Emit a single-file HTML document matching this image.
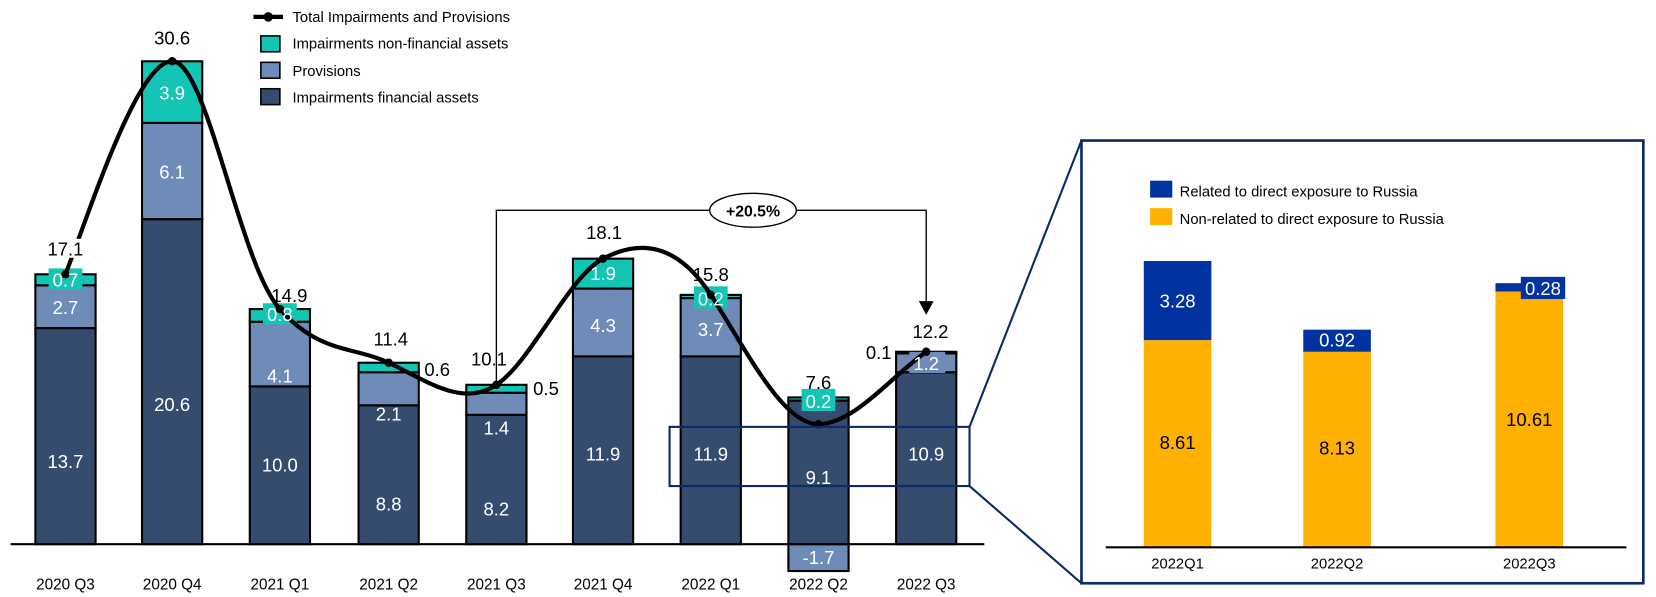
<!DOCTYPE html>
<html><head><meta charset="utf-8"><style>html,body{margin:0;padding:0;background:#fff}svg{display:block}</style></head>
<body>
<svg width="1656" height="597" viewBox="0 0 1568 565" preserveAspectRatio="none" xmlns="http://www.w3.org/2000/svg" font-family="Liberation Sans, Arial, sans-serif">
<g stroke="#000" stroke-width="2">
<rect x="33.5" y="310.5" width="57" height="204.5" fill="#364c6e"/>
<rect x="33.5" y="270" width="57" height="40.5" fill="#6f8bb8"/>
<rect x="33.5" y="259.6" width="57" height="10.4" fill="#14c4b4"/>
<rect x="134.5" y="207.4" width="57" height="307.6" fill="#364c6e"/>
<rect x="134.5" y="116.3" width="57" height="91.1" fill="#6f8bb8"/>
<rect x="134.5" y="58" width="57" height="58.3" fill="#14c4b4"/>
<rect x="236.5" y="365.7" width="57" height="149.3" fill="#364c6e"/>
<rect x="236.5" y="304.5" width="57" height="61.2" fill="#6f8bb8"/>
<rect x="236.5" y="292.5" width="57" height="12" fill="#14c4b4"/>
<rect x="339.5" y="383.6" width="57" height="131.4" fill="#364c6e"/>
<rect x="339.5" y="352.3" width="57" height="31.3" fill="#6f8bb8"/>
<rect x="339.5" y="343.3" width="57" height="9" fill="#14c4b4"/>
<rect x="441.5" y="392.6" width="57" height="122.4" fill="#364c6e"/>
<rect x="441.5" y="371.7" width="57" height="20.9" fill="#6f8bb8"/>
<rect x="441.5" y="364.2" width="57" height="7.5" fill="#14c4b4"/>
<rect x="542.5" y="337.3" width="57" height="177.7" fill="#364c6e"/>
<rect x="542.5" y="273.1" width="57" height="64.2" fill="#6f8bb8"/>
<rect x="542.5" y="244.8" width="57" height="28.3" fill="#14c4b4"/>
<rect x="644.5" y="337.3" width="57" height="177.7" fill="#364c6e"/>
<rect x="644.5" y="282.1" width="57" height="55.2" fill="#6f8bb8"/>
<rect x="644.5" y="279.1" width="57" height="3" fill="#14c4b4"/>
<rect x="746.5" y="379.1" width="57" height="135.9" fill="#364c6e"/>
<rect x="746.5" y="515" width="57" height="25.4" fill="#6f8bb8"/>
<rect x="746.5" y="376.1" width="57" height="3" fill="#14c4b4"/>
<rect x="848.5" y="352.3" width="57" height="162.7" fill="#364c6e"/>
<rect x="848.5" y="334.4" width="57" height="17.9" fill="#6f8bb8"/>
<rect x="848.5" y="332.9" width="57" height="1.5" fill="#14c4b4"/>
</g>
<line x1="10" y1="515" x2="932" y2="515" stroke="#000" stroke-width="2"/>

<polyline points="470,362 470,199 877,199 877,287" fill="none" stroke="#000" stroke-width="1.3"/>
<polygon points="870,285 884,285 877,298" fill="#000"/>
<ellipse cx="713" cy="199" rx="41" ry="16" fill="#fff" stroke="#000" stroke-width="1.3"/>
<text x="713" y="205" font-size="15" font-weight="bold" text-anchor="middle">+20.5%</text>

<rect x="46" y="254" width="32" height="20" fill="#14c4b4"/>
<rect x="249" y="287" width="32" height="20" fill="#14c4b4"/>
<rect x="555" y="248" width="32" height="20" fill="#14c4b4"/>
<rect x="657" y="271" width="32" height="21" fill="#14c4b4"/>
<rect x="759" y="368" width="32" height="21" fill="#14c4b4"/>
<rect x="861" y="333" width="34" height="20" fill="#6f8bb8"/>

<path d="M62,259.6 C85,200 130,58 163,58 C196,58 226.5,249.8 265,292.5 C303.5,335.2 333,327 368,343.3 C403,359.6 437,386 470,364.2 C503,342.4 538,262.3 571,244.8 C604,227.3 640,228.3 673,279.1 C706,329.9 741,402 775,401.5 C809,401 843,357 877,332.9" fill="none" stroke="#000" stroke-width="4"/>
<g fill="#000"><circle cx="62" cy="259.6" r="4"/><circle cx="163" cy="58" r="4"/><circle cx="265" cy="292.5" r="4"/><circle cx="368" cy="343.3" r="4"/><circle cx="470" cy="364.2" r="4"/><circle cx="571" cy="244.8" r="4"/><circle cx="673" cy="279.1" r="4"/><circle cx="775" cy="401.5" r="4"/><circle cx="877" cy="332.9" r="4"/></g>

<g font-size="17.5" fill="#fff" text-anchor="middle">
<text x="62" y="271">0.7</text><text x="62" y="297">2.7</text><text x="62" y="443">13.7</text>
<text x="163" y="94">3.9</text><text x="163" y="169">6.1</text><text x="163" y="389">20.6</text>
<text x="265" y="304">0.8</text><text x="265" y="362">4.1</text><text x="265" y="446">10.0</text>
<text x="368" y="398">2.1</text><text x="368" y="483">8.8</text>
<text x="470" y="411">1.4</text><text x="470" y="488">8.2</text>
<text x="571" y="265">1.9</text><text x="571" y="314">4.3</text><text x="571" y="436">11.9</text>
<text x="673" y="289">0.2</text><text x="673" y="318">3.7</text><text x="673" y="436">11.9</text>
<text x="775" y="386">0.2</text><text x="775" y="458">9.1</text><text x="775" y="534">-1.7</text>
<text x="877" y="350">1.2</text><text x="877" y="436">10.9</text>
</g>
<g font-size="17.5" fill="#000" text-anchor="middle">
<rect x="43" y="226" width="38" height="18" fill="#fff"/>
<text x="62" y="242">17.1</text>
<text x="163" y="42">30.6</text>
<text x="274" y="286">14.9</text>
<text x="370" y="327">11.4</text>
<text x="414" y="356">0.6</text>
<text x="463" y="346">10.1</text>
<text x="517" y="374">0.5</text>
<text x="572" y="226">18.1</text>
<text x="673" y="266">15.8</text>
<text x="775" y="368">7.6</text>
<text x="881" y="320">12.2</text>
<text x="832" y="340">0.1</text>
</g>
<g font-size="14.5" fill="#000" text-anchor="middle">
<text x="62" y="558">2020 Q3</text><text x="163" y="558">2020 Q4</text><text x="265" y="558">2021 Q1</text><text x="368" y="558">2021 Q2</text><text x="470" y="558">2021 Q3</text><text x="571" y="558">2021 Q4</text><text x="673" y="558">2022 Q1</text><text x="775" y="558">2022 Q2</text><text x="877" y="558">2022 Q3</text>
</g>

<line x1="240" y1="16" x2="268" y2="16" stroke="#000" stroke-width="4"/><circle cx="254" cy="16" r="4.5"/>
<rect x="247" y="34" width="18" height="15" fill="#14c4b4" stroke="#000" stroke-width="1.5"/>
<rect x="247" y="59" width="18" height="15" fill="#6f8bb8" stroke="#000" stroke-width="1.5"/>
<rect x="247" y="84" width="18" height="15" fill="#364c6e" stroke="#000" stroke-width="1.5"/>
<g font-size="14" fill="#000"><text x="277" y="21">Total Impairments and Provisions</text><text x="277" y="46">Impairments non-financial assets</text><text x="277" y="72">Provisions</text><text x="277" y="97">Impairments financial assets</text></g>

<rect x="634" y="404" width="284" height="56" fill="none" stroke="#0a2a6a" stroke-width="2"/>
<line x1="918" y1="404" x2="1024" y2="133" stroke="#0a2a6a" stroke-width="2"/>
<line x1="918" y1="460" x2="1024" y2="552" stroke="#0a2a6a" stroke-width="2"/>
<rect x="1024" y="133" width="532" height="419" fill="#fff" stroke="#0a2a6a" stroke-width="2.5"/>

<rect x="1089" y="171" width="21" height="16" fill="#0033a0"/>
<rect x="1089" y="197" width="21" height="16" fill="#ffb000"/>
<g font-size="14" fill="#000"><text x="1117" y="186">Related to direct exposure to Russia</text><text x="1117" y="212">Non-related to direct exposure to Russia</text></g>
<rect x="1083" y="247" width="64" height="75" fill="#0033a0"/><rect x="1083" y="322" width="64" height="196" fill="#ffb000"/>
<rect x="1234" y="312" width="64" height="21" fill="#0033a0"/><rect x="1234" y="333" width="64" height="185" fill="#ffb000"/>
<rect x="1416" y="268" width="64" height="8" fill="#0033a0"/><rect x="1416" y="276" width="64" height="242" fill="#ffb000"/>
<rect x="1440" y="262" width="42" height="21" fill="#0033a0"/>
<line x1="1047" y1="518" x2="1540" y2="518" stroke="#000" stroke-width="2"/>
<g font-size="17.5" text-anchor="middle">
<text x="1115" y="291" fill="#fff">3.28</text><text x="1266" y="328" fill="#fff">0.92</text><text x="1461" y="279" fill="#fff">0.28</text>
<text x="1115" y="425" fill="#000">8.61</text><text x="1266" y="430" fill="#000">8.13</text><text x="1448" y="403" fill="#000">10.61</text>
</g>
<g font-size="14" text-anchor="middle" fill="#000"><text x="1115" y="538">2022Q1</text><text x="1266" y="538">2022Q2</text><text x="1448" y="538">2022Q3</text></g>
</svg>
</body></html>
